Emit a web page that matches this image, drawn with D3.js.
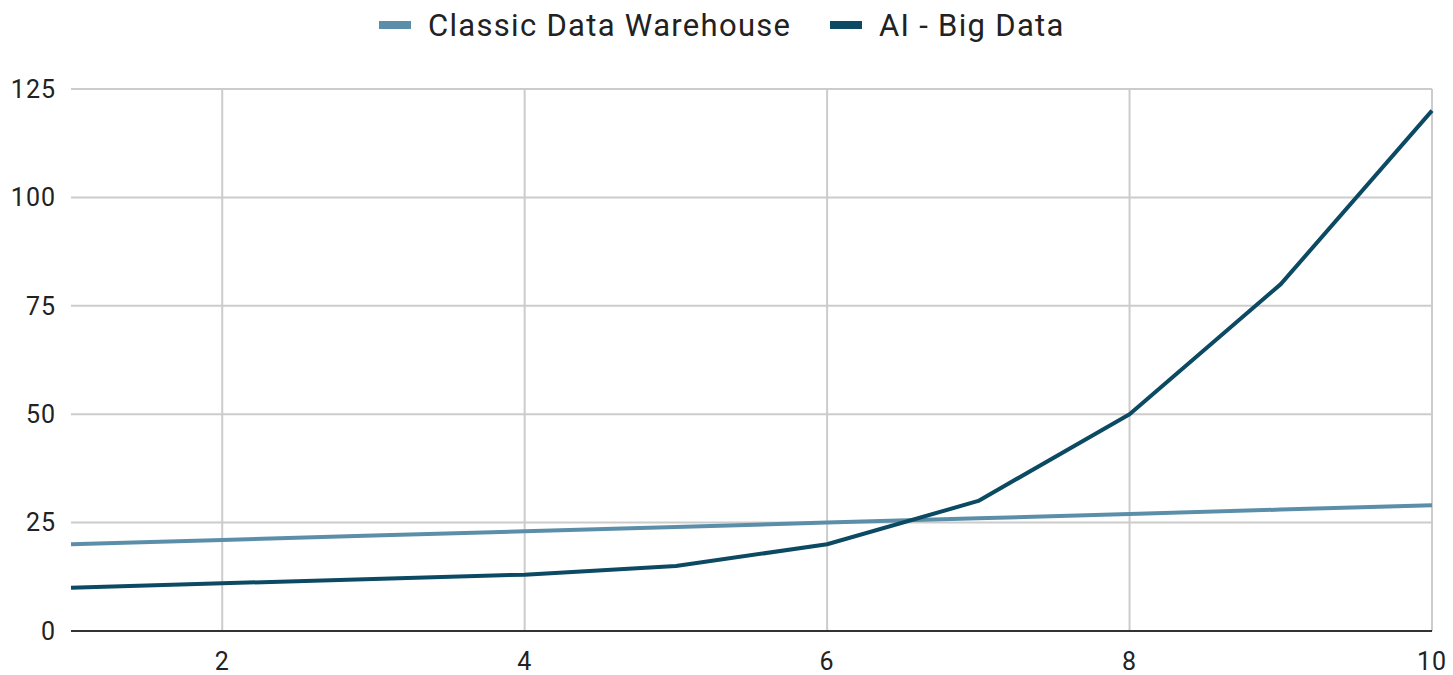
<!DOCTYPE html>
<html>
<head>
<meta charset="utf-8">
<script src="https://cdn.jsdelivr.net/npm/d3@7"></script>
<style>
  body { margin: 0; background: #fff; }
  svg { display: block; font-family: Roboto, sans-serif; }
  .grid line { stroke: #cccccc; stroke-width: 2; }
  .tick-label { fill: #222; font-size: 25px; letter-spacing: 1px; }
  .legend text { fill: #222; font-size: 31px; letter-spacing: 1.3px; }
</style>
</head>
<body>
<svg id="chart" width="1453" height="675"></svg>
<script>
// dati
const xValues = [1, 2, 3, 4, 5, 6, 7, 8, 9, 10];
const classicDW = [20, 21, 22, 23, 24, 25, 26, 27, 28, 29];
const aiBigData = [10, 11, 12, 13, 15, 20, 30, 50, 80, 120];
const yTicks = [0, 25, 50, 75, 100, 125];
const xTicks = [2, 4, 6, 8, 10];

const SERIES = [
  { name: 'Classic Data Warehouse', values: classicDW, color: '#5b8fa9' },
  { name: 'AI - Big Data', values: aiBigData, color: '#0b4a62' }
];

const margin = { left: 71, right: 21, top: 89, bottom: 44 };
const W = 1453, H = 675;

const svg = d3.select('#chart');

const x = d3.scaleLinear().domain([1, 10]).range([margin.left, W - margin.right]);
const y = d3.scaleLinear().domain([0, 125]).range([H - margin.bottom, margin.top]);

// griglia
const grid = svg.append('g').attr('class', 'grid');
grid.selectAll('.hg')
  .data(yTicks.filter(d => d > 0))
  .enter().append('line')
  .attr('x1', x(1)).attr('x2', x(10))
  .attr('y1', d => y(d)).attr('y2', d => y(d));
grid.selectAll('.vg')
  .data(xTicks)
  .enter().append('line')
  .attr('x1', d => x(d)).attr('x2', d => x(d))
  .attr('y1', y(125)).attr('y2', y(0));

// asse zero
svg.append('line')
  .attr('x1', x(1)).attr('x2', x(10))
  .attr('y1', y(0)).attr('y2', y(0))
  .attr('stroke', '#333').attr('stroke-width', 2);

// etichette asse y
svg.selectAll('.ylab')
  .data(yTicks)
  .enter().append('text')
  .attr('class', 'tick-label')
  .attr('x', 56)
  .attr('y', d => y(d))
  .attr('dy', '0.35em')
  .attr('text-anchor', 'end')
  .text(d => d);

// etichette asse x
svg.selectAll('.xlab')
  .data(xTicks)
  .enter().append('text')
  .attr('class', 'tick-label')
  .attr('x', d => x(d))
  .attr('y', 670)
  .attr('text-anchor', 'middle')
  .text(d => d);

// linee
const line = d3.line()
  .x((d, i) => x(xValues[i]))
  .y(d => y(d));

svg.selectAll('.series')
  .data(SERIES)
  .enter().append('path')
  .attr('d', d => line(d.values))
  .attr('fill', 'none')
  .attr('stroke', d => d.color)
  .attr('stroke-width', 4)
  .attr('stroke-linejoin', 'round');

// legenda
const legend = svg.append('g').attr('class', 'legend');
const items = [
  { s: SERIES[0], x: 379 },
  { s: SERIES[1], x: 830 }
];
items.forEach(it => {
  legend.append('rect')
    .attr('x', it.x).attr('y', 21)
    .attr('width', 32).attr('height', 8)
    .attr('fill', it.s.color);
  legend.append('text')
    .attr('x', it.x + 49).attr('y', 25)
    .attr('dy', '0.35em')
    .text(it.s.name);
});
</script>
</body>
</html>
